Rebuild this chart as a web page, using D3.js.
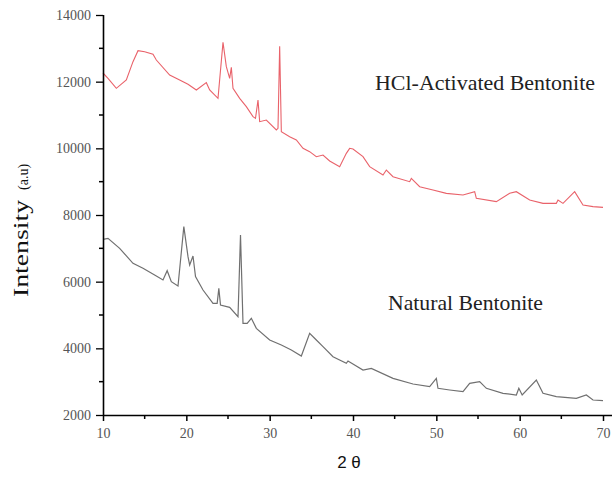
<!DOCTYPE html>
<html>
<head>
<meta charset="utf-8">
<script src="https://cdn.jsdelivr.net/npm/d3@7"></script>
<style>
  body { margin: 0; background: #fff; }
  svg { display: block; }
</style>
</head>
<body>
<svg id="chart" width="612" height="477"></svg>
<script>
// HCl-activated bentonite (red trace)
const hclTheta = [10, 10.6, 11.6, 12.8, 13.6, 14.2, 15, 16, 16.4, 18, 19.2, 20.2, 21.2, 22.4, 22.8, 23.8, 24.4, 24.8, 25.2, 25.4, 25.6, 26.4, 27.2, 28, 28.3, 28.6, 28.8, 29.6, 30.8, 31.0, 31.2, 31.4, 32.4, 33.2, 34, 34.8, 35.6, 36.4, 37.2, 38.4, 39.2, 39.6, 40.0, 41.2, 42, 43.6, 44, 44.8, 46.8, 47, 48, 49.6, 51.2, 53.2, 54.6, 54.8, 57.2, 58.8, 59.6, 61.2, 62.8, 64.4, 64.6, 65.2, 66.6, 67.6, 68.8, 70]
const hclIntensity = [12260, 12100, 11800, 12050, 12600, 12930, 12900, 12820, 12650, 12200, 12050, 11920, 11750, 11970, 11750, 11500, 13180, 12450, 12100, 12430, 11800, 11500, 11250, 10950, 10900, 11450, 10800, 10850, 10550, 10600, 13060, 10500, 10350, 10250, 10000, 9900, 9750, 9800, 9620, 9450, 9850, 10000, 9980, 9750, 9450, 9200, 9350, 9150, 9000, 9100, 8850, 8750, 8650, 8600, 8700, 8500, 8400, 8650, 8700, 8450, 8350, 8350, 8450, 8350, 8700, 8300, 8250, 8230]

// Natural bentonite (grey trace)
const natTheta = [10, 10.6, 12, 13.6, 14.8, 16.4, 17.2, 17.7, 18.2, 19, 19.7, 20.2, 20.4, 20.8, 21.1, 22, 23.2, 23.7, 23.9, 24.1, 25.2, 26.2, 26.5, 26.8, 27.3, 27.8, 28.4, 30, 31.4, 32.6, 33.8, 34.8, 35.6, 36.4, 37.6, 39.2, 39.4, 41.2, 42.2, 44.8, 47.2, 49.2, 50, 50.2, 51.6, 53.2, 54, 55.2, 56, 58, 59.6, 59.9, 60.3, 62, 62.8, 64.4, 66.8, 68, 68.8, 70]
const natIntensity = [7270, 7300, 7000, 6550, 6400, 6170, 6050, 6330, 6000, 5870, 7650, 6750, 6500, 6770, 6150, 5750, 5350, 5350, 5800, 5300, 5230, 4950, 7400, 4750, 4750, 4900, 4600, 4250, 4100, 3950, 3770, 4450, 4250, 4050, 3750, 3550, 3620, 3350, 3400, 3100, 2930, 2850, 3100, 2800, 2750, 2700, 2950, 3000, 2800, 2650, 2600, 2800, 2600, 3050, 2650, 2550, 2500, 2600, 2450, 2430]

const xTicks = [10, 20, 30, 40, 50, 60, 70]
const yTicks = [2000, 4000, 6000, 8000, 10000, 12000, 14000]

const svg = d3.select('#chart')
const mLeft = 103, mRight = 603, mTop = 15, mBottom = 415
const serif = '"Liberation Serif", "Times New Roman", serif'

const x = d3.scaleLinear().domain([10, 70]).range([mLeft, mRight])
const y = d3.scaleLinear().domain([2000, 14000]).range([mBottom, mTop])

const line = d3.line().x((d) => x(d[0])).y((d) => y(d[1]))

svg.append('path')
  .datum(hclTheta.map((t, i) => [t, hclIntensity[i]]))
  .attr('d', line)
  .attr('fill', 'none')
  .attr('stroke', '#e9626a')
  .attr('stroke-width', 1.1)

svg.append('path')
  .datum(natTheta.map((t, i) => [t, natIntensity[i]]))
  .attr('d', line)
  .attr('fill', 'none')
  .attr('stroke', '#707070')
  .attr('stroke-width', 1.2)

// minor ticks
const xMinor = d3.range(15, 70, 10)
const yMinor = d3.range(3000, 14000, 2000)

const xAxis = svg.append('g')
  .attr('transform', `translate(0,${mBottom})`)
  .call(d3.axisBottom(x).tickValues(xTicks).tickSize(6).tickPadding(7).tickFormat(d3.format('d')))
xAxis.attr('font-family', null).attr('font-size', null)
xAxis.select('.domain').attr('d', `M${mLeft},0.5H612`).attr('stroke-width', 1.6)
xAxis.selectAll('.tick line').attr('stroke-width', 1.5)
xAxis.selectAll('.tick text')
  .style('font-family', serif).style('font-size', '14px').attr('fill', '#555')

svg.append('g')
  .attr('transform', `translate(0,${mBottom})`)
  .selectAll('line').data(xMinor).join('line')
  .attr('x1', (d) => x(d)).attr('x2', (d) => x(d))
  .attr('y1', 0).attr('y2', 4)
  .attr('stroke', '#000').attr('stroke-width', 1.5)

const yAxis = svg.append('g')
  .attr('transform', `translate(${mLeft},0)`)
  .call(d3.axisLeft(y).tickValues(yTicks).tickSize(7).tickPadding(5).tickFormat(d3.format('d')))
yAxis.attr('font-family', null).attr('font-size', null)
yAxis.select('.domain').attr('d', `M0.5,${mTop}V${mBottom}`).attr('stroke-width', 1.6)
yAxis.selectAll('.tick line').attr('stroke-width', 1.3)
yAxis.selectAll('.tick text')
  .style('font-family', serif).style('font-size', '14px').attr('fill', '#555')

svg.append('g')
  .attr('transform', `translate(${mLeft},0)`)
  .selectAll('line').data(yMinor).join('line')
  .attr('x1', -4).attr('x2', 0)
  .attr('y1', (d) => y(d)).attr('y2', (d) => y(d))
  .attr('stroke', '#000').attr('stroke-width', 1.5)

// axis titles
svg.append('text')
  .attr('x', 349).attr('y', 468)
  .attr('text-anchor', 'middle')
  .style('font-family', '"Liberation Sans", Arial, sans-serif')
  .style('font-size', '17px')
  .attr('fill', '#111')
  .text('2 θ')

svg.append('text')
  .attr('transform', 'translate(28,297) rotate(-90)')
  .style('font-family', serif)
  .style('font-size', '21px')
  .attr('textLength', 97)
  .attr('lengthAdjust', 'spacingAndGlyphs')
  .attr('fill', '#111')
  .text('Intensity')

svg.append('text')
  .attr('transform', 'translate(28,190) rotate(-90)')
  .style('font-family', serif)
  .style('font-size', '14px')
  .attr('fill', '#111')
  .text('(a.u)')

// series labels
svg.append('text')
  .attr('x', 375).attr('y', 90)
  .style('font-family', serif)
  .style('font-size', '22px')
  .attr('textLength', 220)
  .attr('lengthAdjust', 'spacingAndGlyphs')
  .attr('fill', '#222')
  .text('HCl-Activated Bentonite')

svg.append('text')
  .attr('x', 388).attr('y', 310)
  .style('font-family', serif)
  .style('font-size', '22px')
  .attr('textLength', 155)
  .attr('lengthAdjust', 'spacingAndGlyphs')
  .attr('fill', '#222')
  .text('Natural Bentonite')
</script>
</body>
</html>
